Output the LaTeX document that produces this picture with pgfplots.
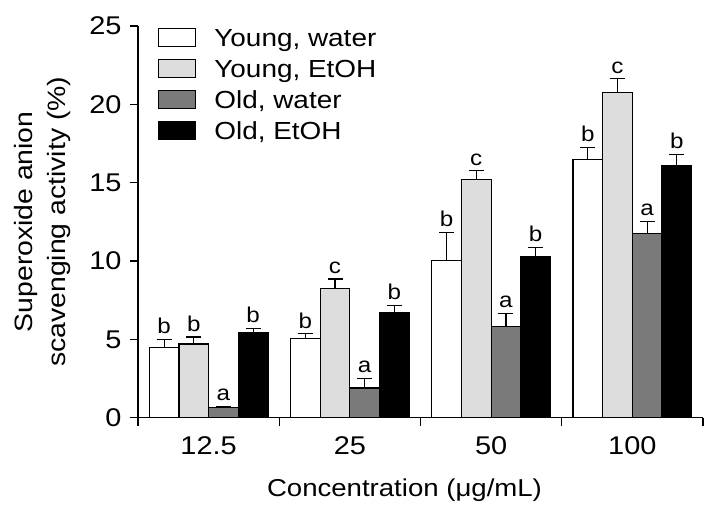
\documentclass[border=0pt]{standalone}
\usepackage{pgfplots}
\pgfplotsset{compat=1.18}
\usepackage{pgfplotstable}
\usepackage{fontspec}
\setmainfont{Liberation Sans}[FakeStretch=1.13]
\definecolor{lgray}{RGB}{221,221,221}
\definecolor{dgray}{RGB}{122,122,122}

\pgfplotstableread{
x y err lab
0 4.50 0.50 b
1 5.05 0.30 b
2 10.05 1.78 b
3 16.50 0.75 b
}\yw
\pgfplotstableread{
x y err lab
0 4.70 0.45 b
1 8.25 0.60 c
2 15.20 0.55 c
3 20.75 0.87 c
}\ye
\pgfplotstableread{
x y err lab
0 0.65 0.08 a
1 1.90 0.60 a
2 5.80 0.85 a
3 11.75 0.78 a
}\ow
\pgfplotstableread{
x y err lab
0 5.40 0.30 b
1 6.70 0.47 b
2 10.25 0.62 b
3 16.10 0.70 b
}\oe

\pgfplotsset{
  myleg/.style={legend image code/.code={\draw[##1, line width=1.2bp] (0bp,-9bp) rectangle (37bp,9bp);}}
}

\begin{document}
\begin{tikzpicture}
\begin{axis}[
  name=ax,
  scale only axis,
  width=565bp, height=391.8bp,
  xmin=-0.5, xmax=3.5, ymin=0, ymax=25,
  axis x line*=bottom, axis y line*=left,
  axis line style={line width=1.4bp},
  tick style={line width=1.4bp, black},
  tick align=outside,
  major tick length=8bp,
  ytick={0,5,10,15,20,25},
  xtick={-0.5,0.5,1.5,2.5,3.5},
  xticklabels={,,,,},
  extra x ticks={0,1,2,3},
  extra x tick labels={12.5,25,50,100},
  extra x tick style={major tick length=0pt},
  tick label style={font=\fontsize{25.7}{30}\selectfont},
  y tick label style={xshift=-5bp},
  x tick label style={yshift=-15bp},
  /pgf/number format/assume math mode=true,
  xlabel={Concentration (μg/mL)},
  ylabel={Superoxide anion\\scavenging activity (\%)},
  label style={font=\fontsize{24.5}{33}\selectfont},
  ylabel style={align=center, font=\fontsize{25.2}{33}\selectfont},
  ylabel shift=12bp,
  xlabel style={yshift=-10bp, xshift=-16bp},
  ybar=0pt, bar width=0.21,
  error bars/y dir=plus, error bars/y explicit,
  error bars/error bar style={line width=1.2bp, black},
  error bars/error mark options={rotate=90, mark size=7.5bp, line width=1.2bp, black},
  nodes near coords,
  point meta=explicit symbolic,
  visualization depends on={\thisrow{err}\as\myerr},
  every node near coord/.append style={font=\fontsize{21.5}{26}\selectfont, shift={(axis direction cs:0,\myerr)}, inner sep=2bp, yshift=3bp, black},
  legend style={at={(rel axis cs:0.0354,0.998)}, anchor=north west, draw=none, fill=none, inner sep=0pt,
    font=\fontsize{24.8}{30}\selectfont, row sep=9bp,
    nodes={text height=18bp, text depth=0pt, inner ysep=2bp},
    /tikz/every odd column/.append style={column sep=16bp}},
  legend cell align=left,
]
\addplot[myleg, draw=black, line width=1.2bp, fill=white] table[x=x, y=y, y error=err, meta=lab] {\yw};
\addplot[myleg, draw=black, line width=1.2bp, fill=lgray] table[x=x, y=y, y error=err, meta=lab] {\ye};
\addplot[myleg, draw=black, line width=1.2bp, fill=dgray] table[x=x, y=y, y error=err, meta=lab] {\ow};
\addplot[myleg, draw=black, line width=1.2bp, fill=black] table[x=x, y=y, y error=err, meta=lab] {\oe};
\legend{{Young, water}, {Young, EtOH}, {Old, water}, {Old, EtOH}}
\end{axis}
\pgfresetboundingbox
\useasboundingbox ([shift={(-138bp,-104.3bp)}]ax.south west) rectangle ([shift={(16bp,25.9bp)}]ax.north east);
\end{tikzpicture}
\end{document}
